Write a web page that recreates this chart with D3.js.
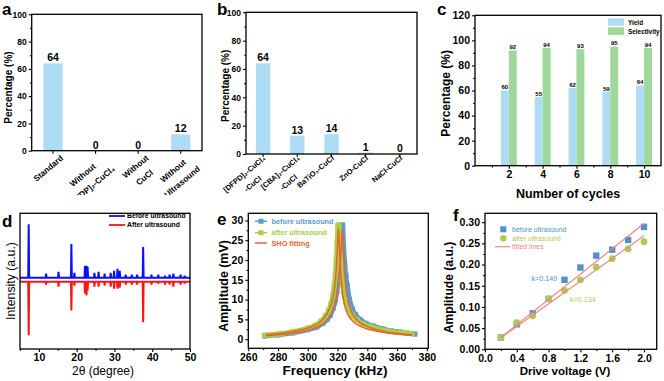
<!DOCTYPE html>
<html>
<head>
<meta charset="utf-8">
<script src="https://cdn.jsdelivr.net/npm/d3@7"></script>
<style>
  body { margin: 0; background: #fff; }
  svg { font-family: Arial, "Liberation Sans", sans-serif; display: block; }
</style>
</head>
<body>
<svg width="664" height="381"></svg>
<script>
// ---- panel a ----
const catsA = [["Standard"], ["Without", "[PFDP]₂-CuCl₄"], ["Without", "CuCl"], ["Without", "Ultrasound"]];
const valsA = [64, 0, 0, 12];
// ---- panel b ----
const catsB = [["[DFPD]₂-CuCl₄", "-CuCl"], ["[CBA]₂-CuCl₄", "-CuCl"], ["BaTiO₃-CuCl"], ["ZnO-CuCl"], ["NaCl-CuCl"]];
const valsB = [64, 13, 14, 1, 0];
const pctTicks = [0, 20, 40, 60, 80, 100];
const pctMinor = [10, 30, 50, 70, 90];
// ---- panel c ----
const cycles = [2, 4, 6, 8, 10];
const cycleMinor = [1, 3, 5, 7, 9];
const yieldVals = [60, 55, 62, 59, 64];
const selectVals = [92, 94, 93, 95, 94];
const pctTicksC = [0, 20, 40, 60, 80, 100, 120];
const pctMinorC = [10, 30, 50, 70, 90, 110];
// ---- panel d (XRD peak list: position, height above baseline) ----
const xrdPos    = [7.3, 11.9, 15.2, 18.6, 19.4, 22.2, 22.6, 22.9, 24.7, 25.8, 27.4, 29.0, 29.9, 30.8, 31.4, 33.0, 34.6, 36.0, 37.6, 39.8, 41.6, 43.4, 44.6, 45.6, 47.5, 48.6];
const xrdBefore = [54, 4, 6, 34, 5, 12, 12, 11, 5, 6, 4, 5, 7, 9, 7, 3, 3, 3, 31, 3, 3, 2, 3, 4, 3, 2];
const xrdAfter  = [54, 3, 5, 29, 4, 12, 14, 9, 5, 5, 4, 5, 7, 7, 6, 3, 3, 3, 41, 3, 2, 3, 3, 5, 3, 2];
const twoThetaTicks = [10, 20, 30, 40, 50];
const twoThetaMinor = [5, 15, 25, 35, 45];
// ---- panel e ----
const freqBefore = [271, 280, 290, 300, 306, 310, 313, 315, 317, 318.5, 319.5, 320.5, 321.3, 322, 322.8, 323.4, 324, 324.8, 325.6, 326.5, 328, 330, 332, 335, 339, 344, 350, 356, 362, 367, 372];
const ampBeforeE = [0.8, 1.1, 1.6, 2.4, 3.1, 4.0, 5.0, 6.0, 7.8, 9.8, 12, 15.5, 19.5, 24, 28.8, 28.8, 24, 19, 16, 13.5, 10, 7.6, 6.2, 5.0, 4.0, 3.3, 2.6, 2.1, 1.8, 1.5, 1.3];
const freqAfter = [271, 280, 290, 300, 305, 309, 312, 314, 315.5, 316.8, 317.8, 318.6, 319.2, 319.8, 320.3, 320.9, 321.5, 322.2, 323, 324, 325.5, 327.5, 330, 333, 337, 342, 348, 355, 362, 370];
const ampAfterE = [1.0, 1.3, 1.9, 2.8, 3.5, 4.6, 5.9, 7.2, 8.8, 11, 13.5, 16.5, 20, 24.5, 28.8, 28.8, 24, 19, 15, 12, 9.5, 7.5, 6.0, 4.9, 3.9, 3.2, 2.5, 2.0, 1.7, 1.4];
const fitFreqA = [272, 285, 295, 303, 309, 313, 316, 318, 319.3, 320.1, 320.6, 321.1, 321.8, 322.8, 324.5, 327, 331, 337, 345, 355, 370];
const fitAmpA  = [1.1, 1.6, 2.3, 3.2, 4.6, 6.5, 9.3, 13, 18.5, 24.5, 28, 25, 19, 13.5, 9, 6.2, 4.3, 3.0, 2.1, 1.5, 1.0];
const fitFreqB = [272, 285, 295, 303, 309, 314, 317.5, 319.8, 321.3, 322.4, 323.2, 323.9, 324.8, 326, 328, 331, 336, 343, 352, 362, 370];
const fitAmpB  = [0.9, 1.3, 1.8, 2.6, 3.6, 5.4, 7.9, 11.5, 16.5, 22.5, 27.5, 23.5, 17, 12, 8.3, 5.8, 4.0, 2.8, 1.9, 1.4, 1.1];
const freqTicks = [260, 280, 300, 320, 340, 360, 380];
const freqMinor = [270, 290, 310, 330, 350, 370];
const mvTicks = [0, 5, 10, 15, 20, 25, 30];
const mvMinor = [2.5, 7.5, 12.5, 17.5, 22.5, 27.5];
// ---- panel f ----
const voltage = [0.2, 0.4, 0.6, 0.8, 1.0, 1.2, 1.4, 1.6, 1.8, 2.0];
const ampBefore = [0.028, 0.059, 0.085, 0.119, 0.164, 0.193, 0.221, 0.235, 0.258, 0.289];
const ampAfter  = [0.028, 0.063, 0.079, 0.119, 0.139, 0.164, 0.194, 0.214, 0.237, 0.254];
const fitV = [0.2, 2.0];
const fitBefore = [0.028, 0.297];
const fitAfter  = [0.027, 0.268];
const voltTicks = [0, 0.4, 0.8, 1.2, 1.6, 2.0];
const voltMinor = [0.2, 0.6, 1.0, 1.4, 1.8];
const auTicks = [0, 0.05, 0.10, 0.15, 0.20, 0.25, 0.30];
const auMinor = [0.025, 0.075, 0.125, 0.175, 0.225, 0.275];

const FONT = 'Arial, "Liberation Sans", sans-serif';
const BAR = "#aedcf5", GREENBAR = "#a0d79b";
const svg = d3.select("svg");

function styleAxis(a, fs) {
  a.attr("font-family", FONT);
  a.select(".domain").remove();
  a.selectAll("line").attr("stroke", "#000").attr("stroke-width", 1.1);
  a.selectAll("text").attr("font-size", fs).attr("font-weight", "bold").attr("fill", "#000");
}

function axes(g, x, y, o) {
  const [yb, yt] = y.range();
  const [xl, xr] = x.range();
  const bottom = g.append("g").attr("transform", `translate(0,${yb})`)
    .call(d3.axisBottom(x).tickValues(o.xTicks).tickSize(3).tickPadding(2).tickFormat(o.xFmt));
  styleAxis(bottom, o.fs);
  if (o.xMinor) {
    styleAxis(g.append("g").attr("transform", `translate(0,${yb})`)
      .call(d3.axisBottom(x).tickValues(o.xMinor).tickSize(1.8).tickFormat("")), o.fs);
  }
  if (o.yTicks) {
    const left = g.append("g").attr("transform", `translate(${xl},0)`)
      .call(d3.axisLeft(y).tickValues(o.yTicks).tickSize(3).tickPadding(2).tickFormat(o.yFmt));
    styleAxis(left, o.fs);
    styleAxis(g.append("g").attr("transform", `translate(${xl},0)`)
      .call(d3.axisLeft(y).tickValues(o.yMinor).tickSize(1.8).tickFormat("")), o.fs);
  }
  g.append("rect").attr("x", xl).attr("y", yt).attr("width", xr - xl).attr("height", yb - yt)
    .attr("fill", "none").attr("stroke", "#000").attr("stroke-width", 1.3);
}

function text(g, x, y, s, o) {
  const t = g.append("text").attr("x", x).attr("y", y).attr("font-size", o.fs)
    .attr("font-weight", o.bold === false ? "normal" : "bold").attr("fill", o.fill || "#000")
    .attr("text-anchor", o.anchor || "start").text(s);
  if (o.rot) t.attr("transform", `rotate(-90,${x},${y})`);
  return t;
}

function catLabels(g, x, cats, dx, y0, fs, lh, ang) {
  cats.forEach((lines, i) => {
    const t = g.append("g")
      .attr("transform", `translate(${x(i) + x.bandwidth() / 2 + dx},${y0}) rotate(${ang})`);
    const tx = lines.map((s, j) => t.append("text").attr("y", j * lh).attr("font-size", fs)
      .attr("font-weight", "bold").attr("text-anchor", "middle").text(s));
    const w = d3.max(tx, d => d.node().getComputedTextLength());
    tx.forEach(d => d.attr("x", -w / 2));
  });
}

svg.append("defs").append("clipPath").attr("id", "topclip")
  .append("rect").attr("x", 0).attr("y", 0).attr("width", 664).attr("height", 195);

// ================= a =================
{
  const g = svg.append("g");
  const x = d3.scaleBand().domain(d3.range(catsA.length)).range([31.7, 202]).paddingInner(0.55).paddingOuter(0.275);
  const y = d3.scaleLinear().domain([0, 100]).range([150.7, 14.3]);
  g.selectAll(".bar").data(valsA).enter().append("rect")
    .attr("x", (d, i) => x(i)).attr("y", d => y(d)).attr("width", x.bandwidth())
    .attr("height", d => y(0) - y(d)).attr("fill", BAR);
  g.selectAll(".lab").data(valsA).enter().append("text")
    .attr("x", (d, i) => x(i) + x.bandwidth() / 2).attr("y", d => y(d) - 2)
    .attr("text-anchor", "middle").attr("font-size", 10.5).attr("font-weight", "bold").text(d => d);
  axes(g, x, y, { xTicks: d3.range(catsA.length), xFmt: "", yTicks: pctTicks, yMinor: pctMinor, fs: 8.5 });
  catLabels(g.append("g").attr("clip-path", "url(#topclip)"), x, catsA, 11, 159, 8.3, 14, -40);
  text(g, 12, 87.5, "Percentage (%)", { fs: 10, anchor: "middle", rot: true });
  text(g, 2, 15, "a", { fs: 17 });
}

// ================= b =================
{
  const g = svg.append("g");
  const x = d3.scaleBand().domain(d3.range(catsB.length)).range([246, 417]).paddingInner(0.58).paddingOuter(0.29);
  const y = d3.scaleLinear().domain([0, 100]).range([154, 12.3]);
  g.selectAll(".bar").data(valsB).enter().append("rect")
    .attr("x", (d, i) => x(i)).attr("y", d => y(d)).attr("width", x.bandwidth())
    .attr("height", d => y(0) - y(d)).attr("fill", BAR);
  g.selectAll(".lab").data(valsB).enter().append("text")
    .attr("x", (d, i) => x(i) + x.bandwidth() / 2).attr("y", d => y(d) - 2)
    .attr("text-anchor", "middle").attr("font-size", 10.5).attr("font-weight", "bold").text(d => d);
  axes(g, x, y, { xTicks: d3.range(catsB.length), xFmt: "", yTicks: pctTicks, yMinor: pctMinor, fs: 8.5 });
  catLabels(g.append("g").attr("clip-path", "url(#topclip)"), x, catsB, 3, 159, 7.5, 13, -40);
  text(g, 229, 85.8, "Percentage (%)", { fs: 10, anchor: "middle", rot: true });
  text(g, 217, 14.5, "b", { fs: 17 });
}

// ================= c =================
{
  const g = svg.append("g");
  const x = d3.scaleLinear().domain([0, 11]).range([475, 661]);
  const y = d3.scaleLinear().domain([0, 120]).range([165.7, 15.3]);
  const bw = x(0.47) - x(0);
  g.selectAll(".yb").data(yieldVals).enter().append("rect")
    .attr("x", (d, i) => x(cycles[i]) - bw).attr("y", d => y(d)).attr("width", bw)
    .attr("height", d => y(0) - y(d)).attr("fill", BAR);
  g.selectAll(".sb").data(selectVals).enter().append("rect")
    .attr("x", (d, i) => x(cycles[i])).attr("y", d => y(d)).attr("width", bw)
    .attr("height", d => y(0) - y(d)).attr("fill", GREENBAR);
  g.selectAll(".yl").data(yieldVals).enter().append("text")
    .attr("x", (d, i) => x(cycles[i]) - bw / 2).attr("y", d => y(d) - 1.2)
    .attr("text-anchor", "middle").attr("font-size", 6).attr("font-weight", "bold").text(d => d);
  g.selectAll(".sl").data(selectVals).enter().append("text")
    .attr("x", (d, i) => x(cycles[i]) + bw / 2).attr("y", d => y(d) - 1.2)
    .attr("text-anchor", "middle").attr("font-size", 6).attr("font-weight", "bold").text(d => d);
  axes(g, x, y, { xTicks: cycles, xMinor: cycleMinor, xFmt: d3.format("d"), yTicks: pctTicksC, yMinor: pctMinorC, fs: 10.5 });
  g.append("rect").attr("x", 608).attr("y", 18.3).attr("width", 16).attr("height", 7.4).attr("fill", BAR);
  g.append("rect").attr("x", 608).attr("y", 27.3).attr("width", 16).attr("height", 7.6).attr("fill", GREENBAR);
  text(g, 628, 24.5, "Yield", { fs: 6.4 });
  text(g, 628, 33.5, "Selectivity", { fs: 6.4 });
  text(g, 450, 93.3, "Percentage (%)", { fs: 12, anchor: "middle", rot: true });
  text(g, 568, 197.5, "Number of cycles", { fs: 12.5, anchor: "middle" });
  text(g, 437, 15, "c", { fs: 17 });
}

// ================= d =================
{
  const g = svg.append("g");
  const x = d3.scaleLinear().domain([5, 50]).range([20, 190]);
  const y = d3.scaleLinear().domain([-72, 65]).range([349, 213.3]);
  const line = d3.line().x(d => x(d[0])).y(d => y(d[1]));
  function pts(base, sign, h) {
    const p = [[5, base]];
    xrdPos.forEach((q, i) => p.push([q - 0.12, base], [q, base + sign * h[i]], [q + 0.12, base]));
    p.push([50, base]);
    return p;
  }
  g.append("path").attr("d", line(pts(0, 1, xrdBefore))).attr("fill", "none")
    .attr("stroke", "#0a10f5").attr("stroke-width", 2);
  g.append("path").attr("d", line(pts(-4, -1, xrdAfter))).attr("fill", "none")
    .attr("stroke", "#fa1414").attr("stroke-width", 2);
  axes(g, x, y, { xTicks: twoThetaTicks, xMinor: twoThetaMinor, xFmt: d3.format("d"), fs: 10.5 });
  g.append("line").attr("x1", 109).attr("x2", 125).attr("y1", 216).attr("y2", 216).attr("stroke", "#0a10f5").attr("stroke-width", 1.8);
  g.append("line").attr("x1", 109).attr("x2", 125).attr("y1", 225).attr("y2", 225).attr("stroke", "#fa1414").attr("stroke-width", 1.8);
  text(g, 127, 218.4, "Before ultrasound", { fs: 6.8 });
  text(g, 127, 227.4, "After ultrasound", { fs: 6.8 });
  text(g, 14.5, 281, "Intensity (a.u.)", { fs: 12.3, anchor: "middle", rot: true, bold: false });
  text(g, 103, 375, "2θ (degree)", { fs: 12, anchor: "middle", bold: false });
  text(g, 2, 227, "d", { fs: 17 });
}

// ================= e =================
{
  const g = svg.append("g");
  const x = d3.scaleLinear().domain([260, 381]).range([248.3, 428.3]);
  const y = d3.scaleLinear().domain([-2.3, 31.8]).range([348.3, 213.3]);
  const line = d3.line().x(d => x(d[0])).y(d => y(d[1])).curve(d3.curveMonotoneX);
  const BLUE = "#5b9bd0", GREEN = "#a9cf47", ORANGE = "#e9642a";
  const series = [
    { f: freqBefore, a: ampBeforeE, c: BLUE },
    { f: freqAfter, a: ampAfterE, c: GREEN }
  ];
  series.forEach(s => {
    const p = s.f.map((f, i) => [f, s.a[i]]);
    g.append("path").attr("d", line(p)).attr("fill", "none").attr("stroke", s.c).attr("stroke-width", 5);
    g.selectAll(null).data(p).enter().append("rect")
      .attr("x", d => x(d[0]) - 2.6).attr("y", d => y(d[1]) - 2.6).attr("width", 5.2).attr("height", 5.2)
      .attr("fill", s.c);
  });
  [[fitFreqA, fitAmpA], [fitFreqB, fitAmpB]].forEach(([f, a]) => {
    g.append("path").attr("d", line(f.map((v, i) => [v, a[i]]))).attr("fill", "none")
      .attr("stroke", ORANGE).attr("stroke-width", 1.5);
  });
  axes(g, x, y, { xTicks: freqTicks, xMinor: freqMinor, xFmt: d3.format("d"), yTicks: mvTicks, yMinor: mvMinor, yFmt: d3.format("d"), fs: 10.5 });
  [[221.3, BLUE, "before ultrasound", true], [232.7, GREEN, "after ultrasound", true], [243, ORANGE, "SHO fitting", false]]
    .forEach(([yy, c, s, sq]) => {
      g.append("line").attr("x1", 255).attr("x2", 267).attr("y1", yy).attr("y2", yy)
        .attr("stroke", c).attr("stroke-width", 1.5);
      if (sq) g.append("rect").attr("x", 258.5).attr("y", yy - 2.5).attr("width", 5).attr("height", 5).attr("fill", c);
      text(g, 271.5, yy + 2.6, s, { fs: 7.3, fill: c });
    });
  text(g, 227.5, 286, "Amplitude (mV)", { fs: 12.4, anchor: "middle", rot: true });
  text(g, 335, 375, "Frequency (kHz)", { fs: 13.5, anchor: "middle" });
  text(g, 217, 225, "e", { fs: 17 });
}

// ================= f =================
{
  const g = svg.append("g");
  const x = d3.scaleLinear().domain([0, 2.16]).range([485, 656.7]);
  const y = d3.scaleLinear().domain([0, 0.321]).range([349.3, 213.3]);
  const BLUE = "#4e92cc", GREEN = "#adcc4c", RED = "#f08585";
  g.selectAll(".sq").data(ampBefore).enter().append("rect")
    .attr("x", (d, i) => x(voltage[i]) - 3.2).attr("y", d => y(d) - 3.2)
    .attr("width", 6.4).attr("height", 6.4).attr("fill", BLUE);
  g.selectAll(".ci").data(ampAfter).enter().append("circle")
    .attr("cx", (d, i) => x(voltage[i])).attr("cy", d => y(d)).attr("r", 3.4).attr("fill", GREEN);
  [fitBefore, fitAfter].forEach(fv => {
    g.append("line").attr("x1", x(fitV[0])).attr("y1", y(fv[0])).attr("x2", x(fitV[1])).attr("y2", y(fv[1]))
      .attr("stroke", RED).attr("stroke-width", 1.2);
  });
  axes(g, x, y, { xTicks: voltTicks, xMinor: voltMinor, xFmt: d3.format(".1f"), yTicks: auTicks, yMinor: auMinor, yFmt: d3.format(".2f"), fs: 10.5 });
  g.append("rect").attr("x", 500.3).attr("y", 226.3).attr("width", 6).attr("height", 6).attr("fill", BLUE);
  g.append("circle").attr("cx", 503.3).attr("cy", 238.3).attr("r", 3.2).attr("fill", GREEN);
  g.append("line").attr("x1", 495).attr("x2", 510).attr("y1", 246.7).attr("y2", 246.7).attr("stroke", RED).attr("stroke-width", 1.2);
  text(g, 512, 231.8, "before ultrasound", { fs: 7, fill: BLUE, bold: false });
  text(g, 512, 240.8, "after ultrasound", { fs: 7, fill: GREEN, bold: false });
  text(g, 512, 249.2, "fitted lines", { fs: 7, fill: RED, bold: false });
  text(g, 531.5, 280.8, "k=0.149", { fs: 7.2, fill: BLUE, bold: false });
  text(g, 570, 301.8, "k=0.134", { fs: 7.2, fill: GREEN, bold: false });
  text(g, 452.5, 287.5, "Amplitude (a.u.)", { fs: 12.1, anchor: "middle", rot: true });
  text(g, 565, 375, "Drive voltage (V)", { fs: 11.5, anchor: "middle" });
  text(g, 453, 220.5, "f", { fs: 17 });
}
</script>
</body>
</html>
